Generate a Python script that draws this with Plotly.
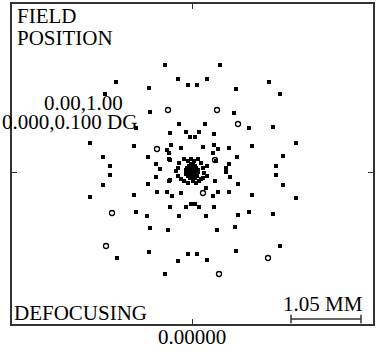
import plotly.graph_objects as go

# Spot diagram ray intercepts (micrometres, relative to chief ray)
solid_x = [-405, 420, -1140, -210, -60, 75, 225, -645, 660, 1155, 1320, -1305, -630, 630,
           -195, 195, 855, 1215, -840, -330, -90, 105, 330, -30, 45,
           -1530, -870, -375, -315, -165, 165, 330, 390, 555, 900, 1560,
           -1335, -660, -330, 675, 1365, 555, -540, -480, -1230, 225, 1260, 510, 510,
           -1230, 1260, 225, 570, -540, -330, -660, 690, 1365, 345, -1335,
           -1530, -870, -525, -375, -300, -165, 315, 390, 555, 900, 1560,
           -330, -90, -15, 45, 105, 330,
           -840, -675, -195, 210, 690, 855, 1215,
           -630, -360, 375, 645, -1125, -645, -210, -60, 75, 225, 660, 1320, -405,
           -120, -60, -15, 30, 90, -195, -210, -240, -210, -165,
           -120, -60, 15, 60, 105, 135, 165, 180, 165, 135,
           -345, -345, 210, 360, 315, -345]
solid_y = [1605, 1605, 1350, 1395, 1305, 1305, 1395, 1260, 1245, 1350, 1170, 1170, 900, 885,
           720, 720, 660, 675, 660, 585, 600, 600, 570, 525, 525,
           435, 390, 330, 405, 360, 375, 405, 345, 360, 390, 435,
           225, 225, 180, 225, 240, 120, 120, 45, 90, 90, 90, 60, 0,
           -45, -45, -60, -75, -75, -120, -180, -180, -195, -135, -195,
           -375, -345, -300, -300, -360, -315, -360, -300, -300, -345, -390,
           -525, -525, -480, -480, -525, -525,
           -600, -660, -660, -660, -645, -600, -630,
           -840, -870, -870, -825, -1290, -1200, -1335, -1230, -1230, -1320, -1185, -1110, -1530,
           195, 165, 195, 165, 195, 135, 60, 15, -60, -105,
           -135, -165, -135, -165, -135, 135, 60, -15, -90, -105,
           195, -135, -240, 165, 285, 285]

hollow_x = [-360, 375, 690, -525, 345, 165, -1200, -1290, 1140, 405]
hollow_y = [930, 930, 720, 345, 180, -315, -615, -1110, -1290, -1530]

core_x = [-15, 15, -45, 0, 45, -75, -30, 15, 60, -90, -45, 0, 45, 90,
          -75, -30, 15, 60, 90, -90, -45, 0, 45, -60, -15, 30, 75, -30, 15, 45]
core_y = [120, 120, 90, 90, 90, 60, 60, 60, 60, 30, 30, 30, 30, 30,
          0, 0, 0, 0, 0, -30, -30, -30, -30, -60, -60, -60, -60, -90, -90, -90]

scale_bar_len = 1050  # um, labelled "1.05 MM"
x_range = [-2700, 2715]
y_range = [-2280, 2520]
x_tick_label = "0.00000"

fig = go.Figure()
fig.add_trace(go.Scatter(x=solid_x + core_x, y=solid_y + core_y, mode="markers",
                         marker=dict(symbol="square", size=4, color="black"),
                         hoverinfo="skip", showlegend=False))
fig.add_trace(go.Scatter(x=hollow_x, y=hollow_y, mode="markers",
                         marker=dict(symbol="circle-open", size=5, color="black",
                                     line=dict(width=1.3)),
                         hoverinfo="skip", showlegend=False))

# scale bar
bar_right = 2535
bar_y = -2205
fig.add_trace(go.Scatter(x=[bar_right - scale_bar_len, bar_right], y=[bar_y, bar_y],
                         mode="lines+markers",
                         line=dict(color="#333", width=1.5),
                         marker=dict(symbol="line-ns", size=6, color="#333",
                                     line=dict(width=1.5, color="#333")),
                         hoverinfo="skip", showlegend=False))

font = dict(family="Liberation Serif, Times New Roman, serif", size=21, color="black")

def ann(text, x, y, xanchor):
    fig.add_annotation(text=text, x=x, y=y, xref="paper", yref="paper", xanchor=xanchor,
                       yanchor="middle", showarrow=False, font=font)

ann("FIELD", 0.008, 0.962, "left")
ann("POSITION", 0.008, 0.895, "left")
ann("0.00,1.00", 0.197, 0.690, "center")
ann("0.000,0.100 DG", -0.032, 0.630, "left")
ann("DEFOCUSING", 0.001, 0.035, "left")
ann("1.05 MM", 0.979, 0.064, "right")
ann(x_tick_label, 0.499, -0.040, "center")

axis_common = dict(showgrid=False, zeroline=False, showline=True, linecolor="#333",
                   linewidth=1.5, mirror="allticks", ticks="inside", ticklen=5,
                   tickcolor="#333", tickwidth=1.2, automargin=False)
fig.update_xaxes(range=x_range, tickvals=[0], showticklabels=False, **axis_common)
fig.update_yaxes(range=y_range, tickvals=[0], showticklabels=False, **axis_common)

fig.update_layout(width=376, height=352, margin=dict(l=12, r=3, t=4, b=28),
                  paper_bgcolor="white", plot_bgcolor="white")

fig.write_html("out.html", config={"displayModeBar": False},
               post_script="document.body.style.margin='0';document.body.style.overflow='hidden';")
